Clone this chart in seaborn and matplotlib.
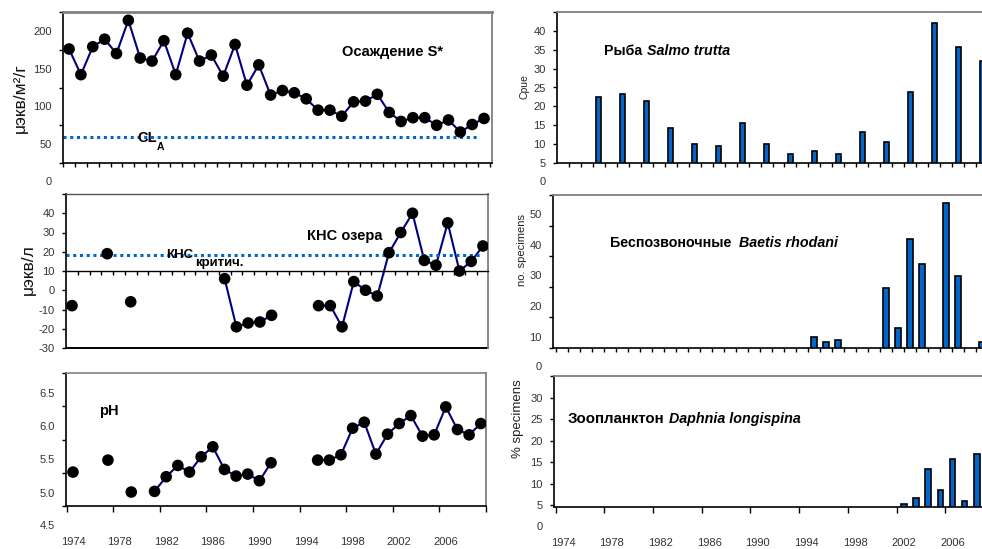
import matplotlib
matplotlib.use("Agg")
import matplotlib.pyplot as plt
import matplotlib.transforms as mtrans
import numpy as np
import pandas as pd
import seaborn as sns

# ---------------- data ----------------
dep_years = list(range(1974, 2010))
dep_values = [176, 142, 179, 189, 170, 214, 164, 160, 187, 142, 197, 160,
              168, 140, 182, 128, 155, 115, 121, 118, 110, 95, 95, 87,
              106, 107, 116, 92, 80, 85, 85, 75, 82, 66, 76, 84]
cl_a = 59

anc_years = [1974, 1977, 1979, 1987, 1988, 1989, 1990, 1991] + list(range(1995, 2010))
anc_values = [-8, 19, -6, 6, -19, -17, -16.5, -13,
              -8, -8, -19, 4.5, 0, -3, 19.5, 30, 40, 15.5, 13, 35, 10, 15, 23]
anc_crit = 18.3

ph_years = [1974, 1977, 1979] + list(range(1981, 1992)) + list(range(1995, 2010))
ph_values = [5.31, 5.49, 5.01,
             5.02, 5.24, 5.41, 5.31, 5.54, 5.69, 5.35, 5.25, 5.28, 5.18, 5.45,
             5.49, 5.49, 5.57, 5.97, 6.06, 5.58, 5.88, 6.04, 6.16, 5.85, 5.87,
             6.29, 5.95, 5.87, 6.04]

trout_years = list(range(1977, 2010, 2))
trout_cpue = [22.5, 23.2, 21.4, 14.4, 10, 9.5, 15.6, 10, 7.5, 8.1, 7.5,
              13.2, 10.6, 23.8, 42, 35.6, 32]

baetis_years = [1995, 1996, 1997, 2001, 2002, 2003, 2004, 2006, 2007, 2009]
baetis_counts = [9.8, 8.2, 8.9, 26, 12.9, 42, 33.6, 53.6, 29.8, 8.2]

daphnia_years = list(range(2002, 2009))
daphnia_pct = [5.2, 6.6, 13.5, 8.65, 15.8, 6.0, 16.9]

year_labels = list(range(1974, 2007, 4))

# ---------------- style ----------------
sns.set_theme(style="ticks")
plt.rcParams["font.family"] = ["Liberation Sans", "DejaVu Sans"]

W, H = 982, 549
NAVY = "#000080"
BLUE = "#0066cc"
TICK_COLOR = "#333333"
FRAME_GRAY = "#808080"

fig = plt.figure(figsize=(W / 100, H / 100), dpi=100)
fig.patch.set_facecolor("white")


def add_ax(left, top, right, bottom):
    return fig.add_axes([left / W, 1 - bottom / H, (right - left) / W, (bottom - top) / H])


def ftext(x, y, s, **kw):
    kw.setdefault("ha", "left")
    kw.setdefault("va", "center")
    fig.text(x / W, 1 - y / H, s, **kw)


def series_frame(years, values):
    df = pd.DataFrame({"year": years, "value": values})
    df["run"] = (df["year"].diff() != 1).cumsum()
    return df


def draw_series(ax, years, values):
    df = series_frame(years, values)
    sns.lineplot(data=df, x="year", y="value", units="run", estimator=None,
                 color=NAVY, lw=1.5, ax=ax, legend=False)
    sns.scatterplot(data=df, x="year", y="value", color="black", s=70,
                    edgecolor="none", ax=ax, zorder=3, legend=False)


def draw_bars(ax, years, values, step):
    sns.barplot(x=years, y=values, native_scale=True, orient="x",
                width=0.46 / step, color=BLUE, saturation=1,
                edgecolor="black", linewidth=1.2, errorbar=None, ax=ax)


def frame(ax, gray_top=1.2, right=True):
    for side in ("left", "bottom"):
        ax.spines[side].set_color("black")
        ax.spines[side].set_linewidth(1.2)
    ax.spines["top"].set_visible(True)
    ax.spines["top"].set_color(FRAME_GRAY)
    ax.spines["top"].set_linewidth(gray_top)
    ax.spines["right"].set_visible(right)
    ax.spines["right"].set_color(FRAME_GRAY)
    ax.spines["right"].set_linewidth(1.3)
    ax.set_xlabel("")
    ax.set_ylabel("")
    ax.set_facecolor("white")


def y_axis(ax, lim, labels, marks, fmt="{:g}", extra=None):
    ax.set_ylim(*lim)
    ax.set_yticks(labels)
    ax.set_yticklabels([fmt.format(v) for v in labels])
    ax.set_yticks(marks, minor=True)
    ax.yaxis.remove_overlapping_locs = False
    ax.tick_params(axis="y", which="major", length=0, pad=8, labelsize=8,
                   labelcolor=TICK_COLOR)
    ax.tick_params(axis="y", which="minor", length=3, width=1.0,
                   color="black", direction="out", left=True)
    if extra is not None:
        trans = mtrans.offset_copy(
            mtrans.blended_transform_factory(ax.transAxes, ax.transData),
            fig=fig, x=-11, y=0, units="dots")
        ax.text(0, extra, fmt.format(extra), transform=trans, ha="right",
                va="center", fontsize=8, color=TICK_COLOR, clip_on=False)


def x_axis(ax, lim, marks, labels=None, mark_len=3):
    ax.set_xlim(*lim)
    ax.xaxis.remove_overlapping_locs = False
    if labels is None:
        ax.set_xticks([])
    else:
        ax.set_xticks(labels)
        ax.set_xticklabels([str(v) for v in labels])
    ax.set_xticks(marks, minor=True)
    ax.tick_params(axis="x", which="major", length=0, pad=22.5, labelsize=8,
                   labelcolor=TICK_COLOR)
    ax.tick_params(axis="x", which="minor", length=mark_len, width=1.0,
                   color="black", direction="out", bottom=True)


# ---------------- left column ----------------
# deposition
ax1 = add_ax(63, 12, 492, 163)
draw_series(ax1, dep_years, dep_values)
ax1.hlines(cl_a, 1973.5, 2008.5, colors=BLUE, lw=2.2, linestyles=(0, (1, 1.2)), zorder=2)
frame(ax1, gray_top=2.0)
y_axis(ax1, (25, 225), [50, 100, 150, 200], [25, 75, 125, 175, 225], extra=0)
x_axis(ax1, (1973.49, 2009.67), np.arange(1973.5, 2010, 1.0))

# acid neutralising capacity
ax2 = add_ax(66, 194, 488, 348)
draw_series(ax2, anc_years, anc_values)
ax2.hlines(anc_crit, 1973.5, 2008.9, colors=BLUE, lw=2.2, linestyles=(0, (1, 1.2)), zorder=2)
frame(ax2, gray_top=1.0)
ax2.spines["top"].set_color("#555555")
ax2.spines["bottom"].set_position(("data", 10))
ax2.spines["bottom"].set_linewidth(1.0)
ax2.axhline(-30, color="black", lw=1.4, clip_on=False, zorder=2.5)
y_axis(ax2, (-30, 50), list(range(-30, 41, 10)), list(range(-30, 51, 10)))
x_axis(ax2, (1973.49, 2009.43), np.arange(1974.5, 2009, 1.0))

# pH
ax3 = add_ax(66, 373, 486, 506)
draw_series(ax3, ph_years, ph_values)
frame(ax3, gray_top=1.2)
y_axis(ax3, (4.8, 6.8), [5.0, 5.5, 6.0, 6.5], [4.8, 5.3, 5.8, 6.3, 6.8],
       fmt="{:.1f}", extra=4.5)
x_axis(ax3, (1973.4, 2009.3), np.arange(1973.45, 2009.5, 4.0),
       labels=year_labels, mark_len=4)

# ---------------- right column ----------------
ax4 = add_ax(557, 12, 1000, 163)
draw_bars(ax4, trout_years, trout_cpue, 2)
frame(ax4, gray_top=1.3, right=False)
y_axis(ax4, (5, 45), list(range(5, 41, 5)), list(range(5, 46, 5)), extra=0)
x_axis(ax4, (1973.54, 2010.46), np.arange(1974.5, 2010, 1.0))

ax5 = add_ax(553, 195, 1000, 348)
draw_bars(ax5, baetis_years, baetis_counts, 1)
frame(ax5, gray_top=1.3, right=False)
y_axis(ax5, (6.3, 56.3), [10, 20, 30, 40, 50], list(np.arange(6.3, 57, 10)), extra=0)
x_axis(ax5, (1973.25, 2010.5), np.arange(1973.5, 2010, 1.0))

ax6 = add_ax(554, 376, 1000, 507)
draw_bars(ax6, daphnia_years, daphnia_pct, 1)
frame(ax6, gray_top=1.3, right=False)
y_axis(ax6, (4.6, 35), [5, 10, 15, 20, 25, 30], list(range(5, 36, 5)), extra=0)
x_axis(ax6, (1973.26, 2009.9), np.arange(1973.4, 2010, 4.0),
       labels=year_labels, mark_len=4)

# ---------------- axis titles ----------------
ftext(20, 98, "μэкв/м²/г", rotation=90, ha="center", fontsize=12.5, color="#111111")
ftext(28, 270, "μэкв/л", rotation=90, ha="center", fontsize=12.5, color="#111111")
ftext(524, 87, "Cpue", rotation=90, ha="center", fontsize=7.5, color="#222222")
ftext(522, 250, "no. specimens", rotation=90, ha="center", fontsize=8, color="#222222")
ftext(518, 419, "% specimens", rotation=90, ha="center", fontsize=9.5, color="#222222")

# ---------------- panel captions ----------------
bold = dict(fontweight="bold", color="black")
ftext(342, 52, "Осаждение S*", fontsize=10.5, **bold)
ftext(137, 138, "CL", fontsize=10.5, **bold)
ftext(157, 147.5, "A", fontsize=7.5, **bold)
ftext(166, 254.5, "КНС", fontsize=9.5, **bold)
ftext(195, 263, "критич.", fontsize=9.5, **bold)
ftext(307, 236, "КНС озера", fontsize=10.5, **bold)
ftext(99, 411, "pH", fontsize=10.5, **bold)

ftext(604, 51, "Рыба", fontsize=10.2, **bold)
ftext(647, 51, "Salmo trutta", fontsize=10.3, style="italic", **bold)
ftext(610, 243, "Беспозвоночные", fontsize=10.3, **bold)
ftext(739, 243, "Baetis rhodani", fontsize=10.3, style="italic", **bold)
ftext(568, 419, "Зоопланктон", fontsize=10.8, **bold)
ftext(669, 419, "Daphnia longispina", fontsize=10.3, style="italic", **bold)

fig.savefig("out.png", dpi=100, facecolor="white")
